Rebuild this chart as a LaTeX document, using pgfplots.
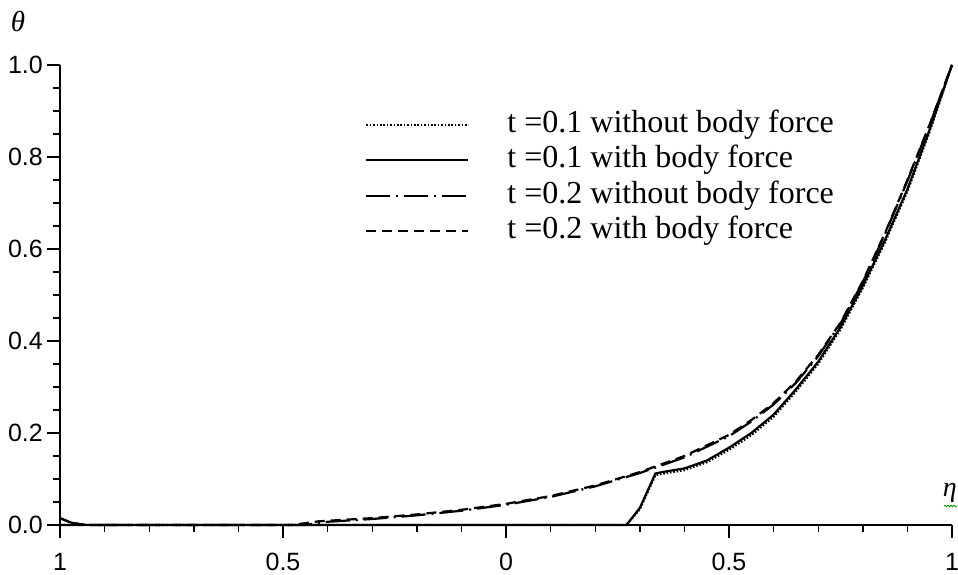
\documentclass[border=0pt]{standalone}
\usepackage{pgfplots}
\pgfplotsset{compat=1.18}
\usepackage{fontspec}
\setmainfont{Liberation Serif}
\newfontfamily\arial{Liberation Sans}
\usetikzlibrary{decorations.pathmorphing}

\pgfplotstableread{
x y
-1 0
0.27 0
0.30 0.034
0.335 0.108
0.35 0.111
0.40 0.119
0.45 0.136
0.50 0.163
0.55 0.195
0.60 0.235
0.65 0.290
0.70 0.350
0.75 0.425
0.80 0.515
0.85 0.615
0.90 0.725
0.95 0.855
1.00 1.000
}\tA

\pgfplotstableread{
x y
-1 0.015
-0.99 0.011
-0.98 0.007
-0.97 0.004
-0.96 0.002
-0.95 0.001
-0.94 0
0.27 0
0.30 0.037
0.335 0.112
0.35 0.115
0.40 0.123
0.45 0.140
0.50 0.168
0.55 0.200
0.60 0.240
0.65 0.295
0.70 0.355
0.75 0.430
0.80 0.520
0.85 0.620
0.90 0.730
0.95 0.860
1.00 1.000
}\tB

\pgfplotstableread{
x y
-1 0
-0.45 0
-0.40 0.007
-0.30 0.013
-0.20 0.021
-0.10 0.031
0.00 0.044
0.10 0.061
0.20 0.084
0.30 0.113
0.40 0.147
0.50 0.193
0.55 0.225
0.60 0.262
0.65 0.309
0.70 0.367
0.75 0.438
0.80 0.528
0.85 0.633
0.90 0.748
0.95 0.870
1.00 1.000
}\tC

\pgfplotstableread{
x y
-1 0.015
-0.98 0.007
-0.95 0.001
-0.93 0
-0.48 0
-0.42 0.008
-0.30 0.015
-0.20 0.023
-0.10 0.033
0.00 0.046
0.10 0.063
0.20 0.086
0.30 0.115
0.40 0.150
0.50 0.196
0.55 0.228
0.60 0.265
0.65 0.312
0.70 0.370
0.75 0.440
0.80 0.530
0.85 0.635
0.90 0.750
0.95 0.871
1.00 1.000
}\tD

\begin{document}
\begin{tikzpicture}
\begin{axis}[
  at={(60pt,50pt)}, anchor=south west,
  scale only axis, width=892pt, height=460pt,
  xmin=-1, xmax=1, ymin=0, ymax=1,
  axis x line=bottom, axis y line=left,
  axis line style={-, line width=1.4pt, black},
  tick align=outside,
  every tick/.style={line width=1.4pt, black},
  major tick length=13pt, minor tick length=7pt,
  xtick={-1,-0.5,0,0.5,1}, xticklabels={1,0.5,0,0.5,1},
  minor x tick num=4,
  ytick={0,0.2,0.4,0.6,0.8,1.0},
  yticklabels={0.0,0.2,0.4,0.6,0.8,1.0},
  minor y tick num=3,
  ticklabel style={font=\arial\fontsize{25}{27}\selectfont, inner sep=0pt},
  xticklabel style={yshift=-15pt},
  yticklabel style={xshift=-4pt},
  clip=false,
  legend cell align=left,
  legend image code/.code={\draw[#1] (0pt,0pt) -- (102pt,0pt);},
  legend style={draw=none, fill=none, at={(0.342,0.902)}, anchor=north west,
    inner sep=0pt, row sep=6.5pt, column sep=38pt,
    font=\fontsize{32}{35}\selectfont,
    nodes={inner sep=0pt, text height=22pt, text depth=7pt}},
]
\addplot[black, line width=2pt, dash pattern=on 1.6pt off 1.8pt] table[x=x,y=y]{\tA};
\addlegendentry{t =0.1 without body force}
\addplot[black, line width=2.2pt] table[x=x,y=y]{\tB};
\addlegendentry{t =0.1 with body force}
\addplot[black, line width=2.2pt, dash pattern=on 24pt off 6pt on 2pt off 6pt] table[x=x,y=y]{\tC};
\addlegendentry{t =0.2 without body force}
\addplot[black, line width=2.2pt, dash pattern=on 10pt off 6pt] table[x=x,y=y]{\tD};
\addlegendentry{t =0.2 with body force}
\end{axis}
\node at (18pt,553pt) {\fontsize{29}{31}\selectfont\textit{θ}};
\node[anchor=east, inner sep=0pt] at (957pt,82pt) {\fontsize{28}{30}\selectfont\textit{η}};
\draw[green!60!black, line width=0.8pt, decorate, decoration={snake, amplitude=0.8pt, segment length=3pt}] (944pt,69pt) -- (957pt,69pt);
\pgfresetboundingbox
\useasboundingbox (0,0) rectangle (958pt,575pt);
\end{tikzpicture}
\end{document}
